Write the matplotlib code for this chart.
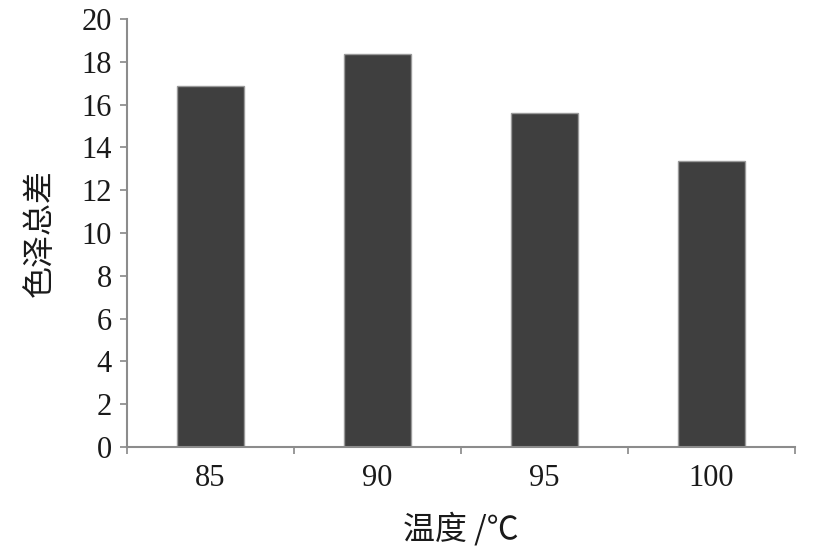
import matplotlib
matplotlib.use('Agg')
import matplotlib.pyplot as plt

# Data
temps = ['85', '90', '95', '100']
color_diff = [16.85, 18.35, 15.6, 13.35]
y_ticks = [0, 2, 4, 6, 8, 10, 12, 14, 16, 18, 20]

plt.rcParams['font.family'] = ['Liberation Serif', 'Noto Sans CJK SC', 'DejaVu Sans']

fig = plt.figure(figsize=(8.38, 5.51), dpi=100)
ax = fig.add_axes([127 / 838, 104 / 551, 668 / 838, 428 / 551])

positions = [i + 0.5 for i in range(len(temps))]
ax.bar(positions, color_diff, width=0.4, color='#3f3f3f', edgecolor='#9a9a9a', linewidth=1.0, zorder=2)

ax.set_xlim(0, len(temps))
ax.set_ylim(0, 20)
ax.set_yticks(y_ticks)
ax.set_yticklabels([str(t) for t in y_ticks], fontsize=22, color='#1a1a1a')

# category boundaries get the tick marks, labels sit between them
ax.set_xticks(range(len(temps) + 1))
ax.set_xticklabels([''] * (len(temps) + 1))
ax.set_xticks(positions, minor=True)
ax.set_xticklabels(temps, minor=True, fontsize=22, color='#1a1a1a')
ax.tick_params(axis='x', which='minor', length=0, pad=12)
ax.tick_params(axis='x', which='major', length=5, width=1.2, color='#888888', direction='out')
ax.tick_params(axis='y', length=5, width=1.2, color='#888888', direction='out', pad=6)

for side in ['top', 'right']:
    ax.spines[side].set_visible(False)
for side in ['left', 'bottom']:
    ax.spines[side].set_color('#8c8c8c')
    ax.spines[side].set_linewidth(1.5)

ax.set_ylabel('色泽总差', fontsize=23, family=['Noto Sans CJK SC', 'DejaVu Sans'], color='#1a1a1a', labelpad=18)
ax.set_xlabel('温度 /℃', fontsize=23, family=['Noto Sans CJK SC', 'DejaVu Sans'], color='#1a1a1a', labelpad=14)

fig.savefig('out.png', dpi=100, facecolor='white')
